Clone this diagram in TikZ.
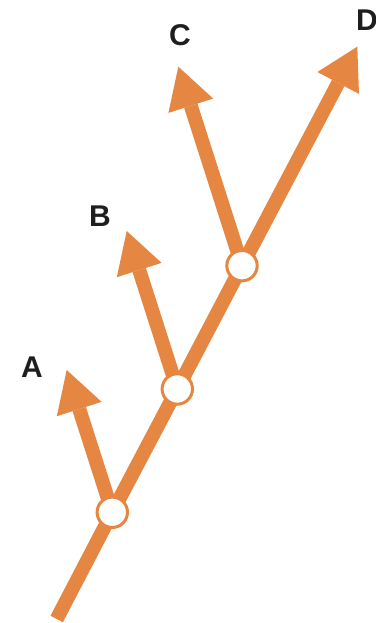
\documentclass[tikz,border=0pt]{standalone}
\usepackage{fontspec}
\setmainfont{Liberation Sans}
\usetikzlibrary{arrows.meta,backgrounds}
\definecolor{branchorange}{RGB}{229,135,66}
\definecolor{labelblack}{RGB}{30,30,30}
\tikzset{
  branchline/.style={draw=branchorange, line width=14pt, line cap=butt,
    -{Triangle[length=41pt,width=47pt,line width=0pt]}},
  splitnode/.style={circle, draw=branchorange, fill=white, line width=3pt,
    minimum size=30.4pt, inner sep=0pt},
  tiplabel/.style={font=\bfseries\fontsize{30}{30}\selectfont, text=labelblack, inner sep=0pt}
}
\begin{document}
\begin{tikzpicture}[x=1pt,y=1pt]
\useasboundingbox (0,0) rectangle (375,623);
\coordinate (bot) at (56.7,4);
\coordinate (Dtip) at (357.3,576.3);
\coordinate (Atip) at (66.7,253);
\coordinate (Btip) at (126.7,392);
\coordinate (Ctip) at (178.3,556.3);
\node[splitnode] (n1) at (112.3,110.7) {};
\node[splitnode] (n2) at (177.3,234) {};
\node[splitnode] (n3) at (242,357.3) {};
\begin{scope}[on background layer]
\draw[branchline] (bot) -- (n1.center) -- (n2.center) -- (n3.center) -- (Dtip);
\draw[branchline] (n1.center) -- (Atip);
\draw[branchline] (n2.center) -- (Btip);
\draw[branchline] (n3.center) -- (Ctip);
\end{scope}
\node[tiplabel] (la) at (32,256) {A};
\node[tiplabel] (lb) at (100,407) {B};
\node[tiplabel] (lc) at (180,588) {C};
\node[tiplabel] (ld) at (367,603) {D};
\end{tikzpicture}
\end{document}
